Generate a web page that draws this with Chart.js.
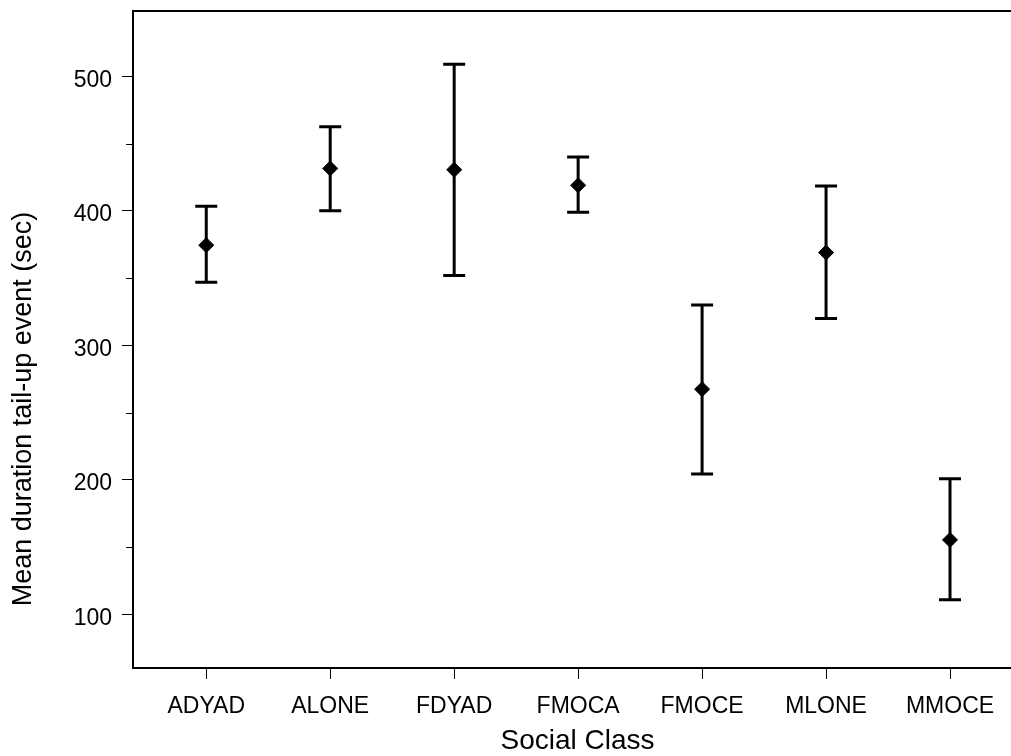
<!DOCTYPE html>
<html>
<head>
<meta charset="utf-8">
<title>Mean duration tail-up event by social class</title>
<script src="https://cdn.jsdelivr.net/npm/chart.js@4.4.1/dist/chart.umd.min.js"></script>
<style>
  html, body { margin: 0; padding: 0; background: #fff; }
  #wrap { width: 1011px; height: 756px; position: relative; }
</style>
</head>
<body>
<div id="wrap"><canvas id="grafico"></canvas></div>
<script>
// Dados (média e limites das barras de erro, em segundos)
const categorias = ['ADYAD', 'ALONE', 'FDYAD', 'FMOCA', 'FMOCE', 'MLONE', 'MMOCE'];
const medias = [374.5, 431.5, 430.5, 419, 267.5, 369, 155.5];
const limiteSuperior = [403.5, 462.5, 509, 440, 330, 418.5, 201];
const limiteInferior = [347, 400, 352, 399, 204.5, 320, 111];
const ticksY = [100, 200, 300, 400, 500];
const ticksMenoresY = [150, 250, 350, 450];

const tituloY = 'Mean duration tail-up event (sec)';
const tituloX = 'Social Class';

Chart.defaults.font.family = 'Arial, "Liberation Sans", sans-serif';
Chart.defaults.color = '#000';

// Barras de erro desenhadas pelas escalas do próprio gráfico
const barrasErro = {
  id: 'barrasErro',
  beforeDatasetsDraw(chart) {
    const { ctx, scales: { x, y } } = chart;
    ctx.save();
    ctx.strokeStyle = '#000';
    ctx.lineWidth = 3;
    categorias.forEach((c, i) => {
      const px = x.getPixelForValue(i);
      const topo = y.getPixelForValue(limiteSuperior[i]);
      const base = y.getPixelForValue(limiteInferior[i]);
      ctx.beginPath();
      ctx.moveTo(px, topo); ctx.lineTo(px, base);
      ctx.moveTo(px - 11, topo); ctx.lineTo(px + 11, topo);
      ctx.moveTo(px - 11, base); ctx.lineTo(px + 11, base);
      ctx.stroke();
    });
    ctx.restore();
  }
};

// Moldura superior, ticks menores e títulos dos eixos
const extras = {
  id: 'extras',
  afterDraw(chart) {
    const { ctx, chartArea: area, scales: { y } } = chart;
    ctx.save();
    ctx.strokeStyle = '#000';
    ctx.lineWidth = 2;
    ctx.beginPath();
    ctx.moveTo(area.left - 1, area.top);
    ctx.lineTo(area.right, area.top);
    ctx.stroke();

    ctx.lineWidth = 1;
    ticksMenoresY.forEach(v => {
      const py = Math.round(y.getPixelForValue(v)) + 0.5;
      ctx.beginPath();
      ctx.moveTo(area.left - 7, py);
      ctx.lineTo(area.left, py);
      ctx.stroke();
    });

    ctx.fillStyle = '#000';
    ctx.textAlign = 'center';
    ctx.textBaseline = 'middle';
    ctx.font = '28px Arial, "Liberation Sans", sans-serif';
    ctx.fillText(tituloX, 577.5, 741);

    ctx.translate(24, 409);
    ctx.rotate(-Math.PI / 2);
    ctx.font = '27px Arial, "Liberation Sans", sans-serif';
    ctx.fillText(tituloY, 0, 0);
    ctx.restore();
  }
};

new Chart(document.getElementById('grafico'), {
  type: 'scatter',
  data: {
    datasets: [{
      label: 'Média',
      data: medias.map((m, i) => ({ x: i, y: m })),
      pointStyle: 'rectRot',
      pointRadius: 7.5,
      pointHoverRadius: 7.5,
      backgroundColor: '#000',
      borderColor: '#000',
      borderWidth: 1
    }]
  },
  options: {
    responsive: true,
    maintainAspectRatio: false,
    animation: false,
    layout: { autoPadding: false, padding: { top: 11, right: 0, bottom: 0, left: 0 } },
    plugins: {
      legend: { display: false },
      tooltip: { enabled: false }
    },
    scales: {
      x: {
        type: 'linear',
        min: -0.591,
        max: 6.492,
        afterBuildTicks: s => { s.ticks = categorias.map((c, i) => ({ value: i })); },
        afterFit: s => { s.height = 88; s.paddingLeft = 0; s.paddingRight = 0; },
        ticks: {
          autoSkip: false,
          maxRotation: 0,
          padding: 14,
          font: { size: 23 },
          callback: v => categorias[v]
        },
        grid: { drawOnChartArea: false, drawTicks: true, tickLength: 11, tickWidth: 1, color: '#000' },
        border: { display: true, color: '#000', width: 2 }
      },
      y: {
        min: 60.3,
        max: 548.5,
        afterBuildTicks: s => { s.ticks = ticksY.map(v => ({ value: v })); },
        afterFit: s => { s.width = 133; s.paddingTop = 0; s.paddingBottom = 0; },
        ticks: {
          padding: 10,
          labelOffset: 4,
          font: { size: 23 },
          callback: v => String(v)
        },
        grid: { drawOnChartArea: false, drawTicks: true, tickLength: 11, tickWidth: 1, color: '#000' },
        border: { display: true, color: '#000', width: 2 }
      }
    }
  },
  plugins: [barrasErro, extras]
});
</script>
</body>
</html>
